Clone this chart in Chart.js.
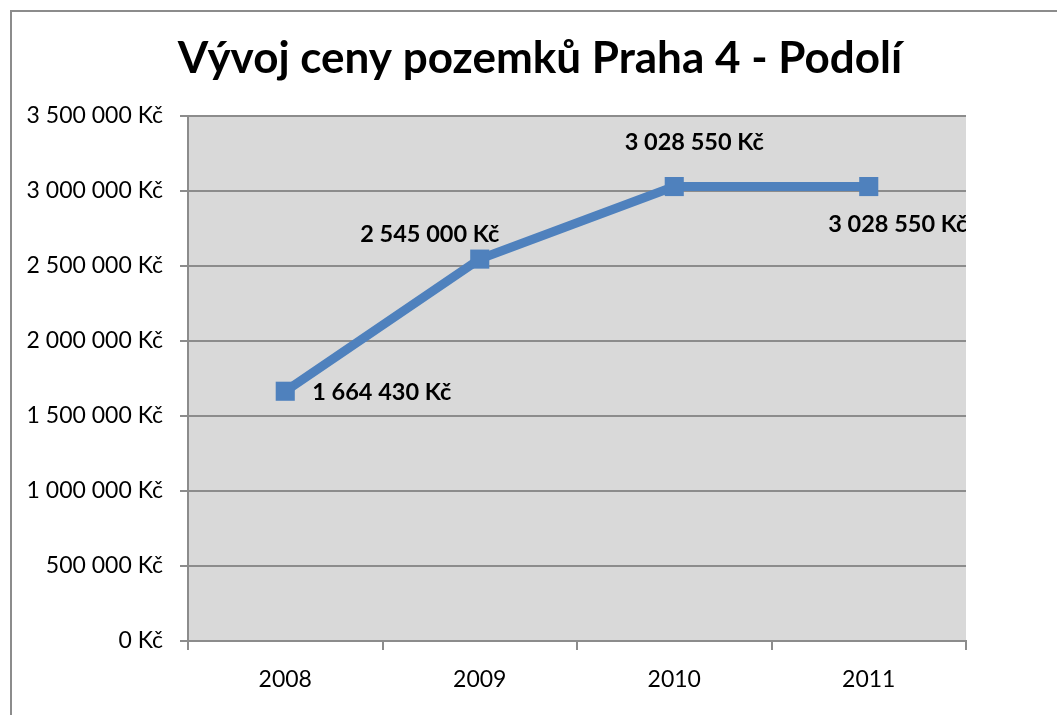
<!DOCTYPE html>
<html>
<head>
<meta charset="utf-8">
<script src="https://cdn.jsdelivr.net/npm/chart.js@4.4.1/dist/chart.umd.min.js"></script>
<style>
  html, body { margin: 0; padding: 0; background: #fff; }
  #wrap { position: relative; width: 1057px; height: 715px; overflow: hidden; }
  #frame { position: absolute; left: 10px; top: 10px; width: 1100px; height: 800px;
           border-left: 2px solid #8c8c8c; border-top: 2px solid #8c8c8c; }
  canvas { position: absolute; left: 0; top: 0; }
</style>
</head>
<body>
<div id="wrap">
  <div id="frame"></div>
  <canvas id="landChart" width="1057" height="715"></canvas>
</div>
<script>
// ================= DATA =================
const years = ["2008", "2009", "2010", "2011"];
const prices = [1664430, 2545000, 3028550, 3028550];
const labelSide = ["right", "top", "top", "bottom"];
const chartTitle = "Vývoj ceny pozemků Praha 4 - Podolí";

const FONT = "Lato, 'Open Sans', sans-serif";
const GRID = "#8c8c8c";

// format like "3 028 550 Kč"
function formatKc(v) {
  return String(Math.round(v)).replace(/\B(?=(\d{3})+(?!\d))/g, " ") + " Kč";
}

// gray plot area behind everything
const plotBg = {
  id: "plotBg",
  beforeDraw(chart) {
    const { ctx, chartArea: a } = chart;
    ctx.save();
    ctx.fillStyle = "#d9d9d9";
    ctx.fillRect(a.left, a.top, a.right - a.left, a.bottom - a.top);
    ctx.restore();
  }
};

// title sits centred on the whole frame, not on the padded box
const titleShift = {
  id: "titleShift",
  afterLayout(chart) {
    const t = chart.titleBlock;
    if (t) { t.left += 57; t.right += 57; }
  }
};

// value labels next to the points
const valueLabels = {
  id: "valueLabels",
  afterDatasetsDraw(chart) {
    const { ctx, chartArea: a } = chart;
    const meta = chart.getDatasetMeta(0);
    ctx.save();
    ctx.beginPath();
    ctx.rect(a.left, a.top, a.right - a.left, a.bottom - a.top);
    ctx.clip();
    ctx.font = "bold 23.5px " + FONT;
    ctx.fillStyle = "#000";
    ctx.textBaseline = "middle";
    meta.data.forEach((pt, i) => {
      const text = formatKc(prices[i]);
      const side = labelSide[i];
      if (side === "right") {
        ctx.textAlign = "left";
        ctx.fillText(text, pt.x + 27, pt.y + 1);
      } else if (side === "top") {
        ctx.textAlign = "center";
        if (i === 1) ctx.fillText(text, pt.x - 50, pt.y - 25);
        else ctx.fillText(text, pt.x + 20, pt.y - 44);
      } else {
        ctx.textAlign = "center";
        ctx.fillText(text, pt.x + 29, pt.y + 38);
      }
    });
    ctx.restore();
  }
};

const ctx = document.getElementById("landChart").getContext("2d");
const chart = new Chart(ctx, {
  type: "line",
  data: {
    labels: years,
    datasets: [{
      data: prices,
      borderColor: "#4f81bd",
      backgroundColor: "#4f81bd",
      borderWidth: 9,
      tension: 0,
      pointStyle: "rect",
      pointRadius: 13.5,
      pointBorderWidth: 0,
      pointHoverRadius: 13.5,
      clip: false
    }]
  },
  options: {
    responsive: false,
    animation: false,
    events: [],
    layout: { padding: { left: 0, right: 91, top: 0, bottom: 0 } },
    plugins: {
      legend: { display: false },
      tooltip: { enabled: false },
      title: {
        display: true,
        text: chartTitle,
        color: "#000",
        font: { family: FONT, size: 44, weight: "bold", lineHeight: 1.2 },
        padding: { top: 32, bottom: 31 }
      }
    },
    scales: {
      x: {
        offset: true,
        grid: { offset: true, drawOnChartArea: false, color: GRID, lineWidth: 2, tickLength: 9 },
        border: { color: GRID, width: 2 },
        ticks: { color: "#000", font: { family: FONT, size: 23 }, padding: 16 },
        afterFit(scale) { scale.height = 74; }
      },
      y: {
        min: 0,
        max: 3500000,
        grid: { color: GRID, lineWidth: 2, tickLength: 8 },
        border: { color: GRID, width: 2 },
        ticks: {
          stepSize: 500000,
          color: "#000",
          font: { family: FONT, size: 23 },
          padding: 17,
          callback: v => formatKc(v)
        },
        afterFit(scale) { scale.width = 188; }
      }
    }
  },
  plugins: [plotBg, titleShift, valueLabels]
});
</script>
</body>
</html>
